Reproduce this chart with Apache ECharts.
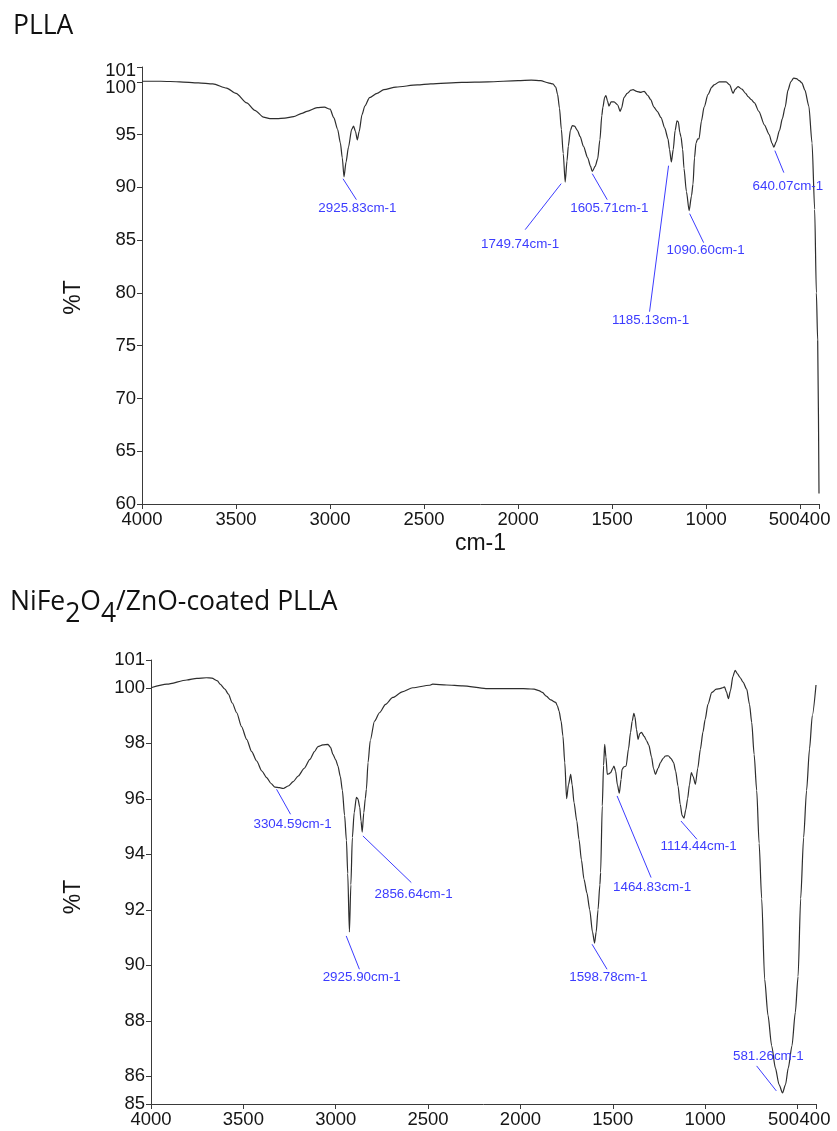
<!DOCTYPE html>
<html><head><meta charset="utf-8">
<script src="https://cdn.jsdelivr.net/npm/echarts@6/dist/echarts.min.js"></script>
<style>html,body{margin:0;padding:0;background:#fff}#c{width:837px;height:1131px}</style>
</head><body><div id="c"></div>
<script>
// ---------- data ----------
const topWavenumber = [4000,3900,3800,3700,3623,3550,3500,3443,3400,3354,
3320,3283,3240,3194,3150,3123,3069,3030,3000,2980,
2960,2945,2935,2925.83,2915,2902,2885,2875,2865,2855,
2845,2830,2815,2790,2750,2714,2650,2536,2465,2300,
2160,2000,1930,1880,1840,1815,1800,1790,1780,1770,
1760,1749.74,1740,1733,1722,1712,1700,1685,1670,1653,
1630,1615,1605.71,1590,1577,1565,1555,1549,1540,1533,
1525,1517,1505,1490,1470,1458,1450,1437,1420,1400,
1389,1370,1347,1330,1310,1295,1278,1260,1240,1220,
1203,1195,1185.13,1175,1165,1155,1148,1140,1134,1125,
1118,1105,1090.60,1078,1070,1062,1054,1045,1038,1025,
1011,990,970,958,930,894,875,857,845,831,
810,790,777,760,743,720,690,665,650,640.07,
628,610,595,580,565,550,535,520,505,491,
475,454,437,423,414,407,400];
const topTransmittance = [100.05,100.05,100.0,99.9,99.8,99.4,98.9,98.0,97.3,96.65,
96.5,96.5,96.55,96.7,97.0,97.2,97.55,97.6,97.4,96.6,
95.5,94.2,92.8,91.0,92.4,93.8,95.5,95.8,95.3,94.5,
95.3,96.9,97.7,98.5,98.9,99.25,99.5,99.7,99.8,99.95,
100.0,100.1,100.15,100.1,99.9,99.8,99.5,98.8,97.5,95.5,
93.2,90.5,92.5,93.9,95.4,95.85,95.8,95.4,94.8,93.9,
92.8,92.0,91.5,92.0,92.7,94.5,96.8,97.6,98.5,98.7,
98.2,97.7,98.1,98.1,97.8,97.2,97.5,98.5,98.9,99.2,
99.25,99.1,99.0,99.1,98.7,98.3,97.6,97.2,96.6,95.6,
94.6,93.6,92.4,93.6,95.4,96.3,96.2,95.2,94.8,93.6,
91.8,89.6,87.8,89.2,90.3,92.8,94.2,94.6,94.6,96.3,
97.6,98.8,99.5,99.7,100.0,100.0,99.7,98.9,99.3,99.55,
99.3,98.9,98.6,98.3,98.0,97.2,95.9,95.0,94.2,93.8,
94.3,95.4,96.5,97.6,99.2,100.0,100.35,100.3,100.1,99.9,
99.2,97.7,94.2,87.9,80.0,75.5,61.0];

const bottomWavenumber = [4000,3914,3806,3752,3700,3671,3640,3626,3600,3581,
3560,3536,3510,3482,3455,3428,3400,3374,3350,3329,
3304.59,3284,3257,3230,3203,3170,3140,3115,3096,3070,
3042,3028,3015,3000,2988,2975,2964,2952,2942,2935,
2925.90,2918,2910,2900,2888,2880,2870,2863,2856.64,2848,
2840,2834,2825,2813,2790,2763,2730,2691,2640,2583,
2493,2475,2400,2313,2187,2100,2007,1960,1926,1900,
1881,1860,1836,1809,1800,1791,1780,1770,1760,1750,
1740,1728,1720,1710,1695,1683,1670,1656,1640,1625,
1610,1598.78,1590,1580,1570,1566,1557,1550,1544,1537,
1530,1521,1512,1500,1494,1485,1475,1464.83,1455,1450,
1440,1428,1415,1404,1395,1386,1380,1372,1363,1354,
1345,1330,1318,1305,1290,1280,1269,1255,1242,1228,
1215,1200,1185,1171,1160,1147,1135,1125,1114.44,1105,
1095,1085,1075,1065,1053,1040,1026,1012,1000,985,
964,940,919,905,895,885,874,863,850,838,
825,811,795,775,760,748,735,721,708,694,
678,660,640,620,600,581.26,565,550,530,512,
497,483,467,451,435,420,400];
const bottomTransmittance = [100.0,100.13,100.28,100.34,100.36,100.35,100.25,100.13,99.95,99.77,
99.45,99.1,98.6,98.14,97.7,97.36,97.0,96.76,96.55,96.42,
96.4,96.37,96.46,96.62,96.82,97.1,97.42,97.7,97.88,97.94,
97.96,97.85,97.6,97.4,97.18,96.8,96.3,95.4,94.5,93.3,
91.2,92.9,94.6,95.5,96.05,96.0,95.7,95.2,94.8,95.5,
96.0,96.34,97.3,98.1,98.8,99.1,99.4,99.65,99.85,100.0,
100.09,100.13,100.1,100.07,99.97,99.97,99.97,99.96,99.95,99.9,
99.83,99.7,99.56,99.47,99.35,99.16,98.8,98.26,97.3,96.0,
96.5,96.88,96.5,95.86,95.2,94.54,93.8,93.1,92.6,92.0,
91.2,90.8,91.2,92.0,92.9,93.34,95.74,97.2,97.96,97.5,
96.88,96.9,96.94,97.1,97.18,97.0,96.5,96.2,96.7,97.06,
97.15,97.18,97.8,98.39,98.8,99.08,98.95,98.5,98.14,98.35,
98.39,98.25,98.1,97.93,97.5,97.1,96.88,97.1,97.3,97.45,
97.54,97.55,97.45,97.3,97.0,96.46,95.8,95.4,95.3,95.6,
96.0,96.5,96.94,96.8,96.52,97.1,97.78,98.4,98.86,99.4,
99.83,99.95,99.97,100.0,100.03,99.85,99.61,99.9,100.4,100.63,
100.5,100.37,100.2,99.95,99.4,98.75,97.6,96.3,94.4,92.4,
89.5,88.2,87.1,86.3,85.7,85.4,85.7,86.3,87.1,88.3,
89.6,92.4,94.6,96.3,97.8,99.0,100.1];

const topPeakWavenumber = [2925.83, 1749.74, 1605.71, 1185.13, 1090.60, 640.07];
const topPeakTransmittance = [91.0, 90.5, 91.5, 92.4, 87.8, 93.8];
const bottomPeakWavenumber = [3304.59, 2925.90, 2856.64, 1598.78, 1464.83, 1114.44, 581.26];
const bottomPeakTransmittance = [96.4, 91.2, 94.8, 90.8, 96.2, 95.3, 85.4];

const xTicks = [4000,3500,3000,2500,2000,1500,1000,500];
const xEndTick = [400];
const topYTicks = [60,65,70,75,80,85,90,95,100];
const topYEndTick = [101.4];
const bottomYTicks = [85,86,88,90,92,94,96,98,100,101];

// ---------- layout / style (pixel offsets of leader line start, end, label centre) ----------
const topLeaderLayout = [[-1,2,12.4,22.9,13.4,31.9],[-4,1.6,-40,47.6,-45,62.6],[0,2.2,15,28.2,17,37.2],
  [-2.8,3.7,-21.8,149.7,-20.8,158.7],[0.5,3.1,14.5,32.1,16.5,40.1],[1,3.4,10,25.4,14,39.4]];
const bottomLeaderLayout = [[-2.9,1.6,11.1,26.6,13.1,36.6],[-3.2,4,10,37.3,12.3,45.3],[0.7,3.9,49.1,50.5,51.4,62.2],
  [-2.5,1.2,12.5,26.2,13.7,34.5],[-2.2,2.75,31.8,84.35,32.8,94.35],[-3.1,2.8,12.9,21.1,14.6,28.4],[-6.2,-2,-25.9,-27,-14.2,-36.4]];

const FONT = '"Liberation Sans", Arial, sans-serif';
const TFONT = '"Open Sans", "Noto Sans", sans-serif';
const AXIS = '#3a3a3a';
const CURVE = '#2e2e2e';
const BLUE = '#3c3cff';
const TXT = '#151515';
const LBL = {fontSize: 18.5, fontFamily: FONT, color: TXT};

function zip(a, b) { return a.map((v, i) => [v, b[i]]); }

// main x axis (4000 ... 500); the last label is nudged left (px)
function xAxisMain(gi, withName, shiftLast) {
  return {
    gridIndex: gi, type: 'value', position: 'bottom', min: 400, max: 4000, inverse: true,
    name: withName ? 'cm-1' : '', nameLocation: 'middle', nameGap: 28, nameMoveOverlap: false,
    nameTextStyle: {fontSize: 23, fontFamily: FONT, color: TXT},
    axisLine: {show: true, onZero: false, lineStyle: {color: AXIS, width: 1}},
    axisTick: {show: true, length: 5, customValues: xTicks, lineStyle: {color: AXIS}},
    axisLabel: {
      customValues: xTicks, margin: 6, ...LBL, showMinLabel: true, showMaxLabel: true,
      formatter: v => v === xTicks[xTicks.length - 1] ? '{a|' + v + '}' : String(v),
      rich: {a: {...LBL, padding: [0, shiftLast * 2, 0, 0]}}
    },
    splitLine: {show: false}
  };
}
// separate axis carrying only the 400 end tick/label
function xAxisEnd(gi, shift) {
  return {
    gridIndex: gi, type: 'value', position: 'bottom', offset: 0, min: 400, max: 4000, inverse: true,
    axisLine: {show: false, onZero: false},
    axisTick: {show: true, length: 5, customValues: xEndTick, lineStyle: {color: AXIS}},
    axisLabel: {customValues: xEndTick, margin: 6, ...LBL, showMinLabel: true, showMaxLabel: true,
      formatter: v => '{a|' + v + '}', rich: {a: {...LBL, padding: [0, shift * 2, 0, 0]}}},
    splitLine: {show: false}
  };
}
function yAxisMain(gi, min, max, ticks, nameGap, nameShift, shiftTop) {
  return {
    gridIndex: gi, type: 'value', position: 'left', min: min, max: max,
    name: '%T', nameLocation: 'middle', nameGap: nameGap, nameMoveOverlap: false,
    nameTextStyle: {fontSize: 23, fontFamily: FONT, color: TXT, padding: [0, nameShift * 2, 0, 0]},
    axisLine: {show: true, onZero: false, lineStyle: {color: AXIS, width: 1}},
    axisTick: {show: true, length: 5, customValues: ticks, lineStyle: {color: AXIS}},
    axisLabel: {
      customValues: ticks, margin: 6, ...LBL, showMinLabel: true, showMaxLabel: true,
      formatter: v => v === ticks[ticks.length - 1] ? '{h|' + v + '}' : String(v),
      rich: {h: {...LBL, padding: [shiftTop * 2, 0, 0, 0]}}
    },
    splitLine: {show: false}
  };
}
function yAxisEnd(gi, min, max, shift) {
  return {
    gridIndex: gi, type: 'value', position: 'left', offset: 0, min: min, max: max,
    axisLine: {show: false, onZero: false},
    axisTick: {show: true, length: 5, customValues: topYEndTick, lineStyle: {color: AXIS}},
    axisLabel: {customValues: topYEndTick, margin: 6, ...LBL, showMinLabel: true, showMaxLabel: true,
      formatter: v => '{t|' + Math.round(v) + '}', rich: {t: {...LBL, padding: [shift * 2, 0, 0, 0]}}},
    splitLine: {show: false}
  };
}

function curveSeries(xi, yi, wn, t) {
  return {type: 'line', xAxisIndex: xi, yAxisIndex: yi, data: zip(wn, t), showSymbol: false, symbol: 'none',
    smooth: 0.25, smoothMonotone: 'x', lineStyle: {color: CURVE, width: 1.2}, silent: true, z: 3};
}

function peakSeries(xi, yi, wn, t, layout) {
  return {
    type: 'custom', xAxisIndex: xi, yAxisIndex: yi, clip: false, silent: true, z: 5,
    data: zip(wn, t),
    renderItem(params, api) {
      const i = params.dataIndex;
      const p = api.coord([api.value(0), api.value(1)]);
      const o = layout[i];
      return {type: 'group', children: [
        {type: 'line', shape: {x1: p[0] + o[0], y1: p[1] + o[1], x2: p[0] + o[2], y2: p[1] + o[3]},
          style: {stroke: BLUE, lineWidth: 1}},
        {type: 'text', x: p[0] + o[4], y: p[1] + o[5],
          style: {text: wn[i].toFixed(2) + 'cm-1', fill: BLUE, font: '13.4px ' + FONT, align: 'center', verticalAlign: 'middle'}}
      ]};
    }
  };
}

const titleBase = {fontFamily: TFONT, fontSize: 26.5, fontWeight: 'normal', color: '#111'};
const option = {
  animation: false,
  backgroundColor: '#fff',
  title: [
    {text: 'PLLA', left: 13, top: 13, padding: 0, textStyle: titleBase},
    {text: '{n|NiFe}{s|2}{n|O}{s|4}{n|/ZnO-coated PLLA}', left: 10, top: 589, padding: 0,
      textStyle: {...titleBase, rich: {
        n: {...titleBase, verticalAlign: 'top'},
        s: {...titleBase, verticalAlign: 'top', padding: [12, 0, 0, 0]}
      }}}
  ],
  grid: [
    {left: 142, right: 18, top: 67, height: 437, containLabel: false, outerBoundsMode: 'none'},
    {left: 151, right: 21, top: 660, height: 444, containLabel: false, outerBoundsMode: 'none'}
  ],
  xAxis: [xAxisMain(0, true, 16), xAxisEnd(0, 4), xAxisMain(1, false, 14), xAxisEnd(1, 1)],
  yAxis: [yAxisMain(0, 60, 101.4, topYTicks, 57, 12, 6), yAxisEnd(0, 60, 101.4, 4),
          yAxisMain(1, 85, 101, bottomYTicks, 66, 15, 0)],
  series: [
    curveSeries(0, 0, topWavenumber, topTransmittance),
    curveSeries(2, 2, bottomWavenumber, bottomTransmittance),
    peakSeries(0, 0, topPeakWavenumber, topPeakTransmittance, topLeaderLayout),
    peakSeries(2, 2, bottomPeakWavenumber, bottomPeakTransmittance, bottomLeaderLayout)
  ]
};
const chart = echarts.init(document.getElementById('c'), null, {renderer: 'canvas'});
chart.setOption(option);
</script>
</body></html>
